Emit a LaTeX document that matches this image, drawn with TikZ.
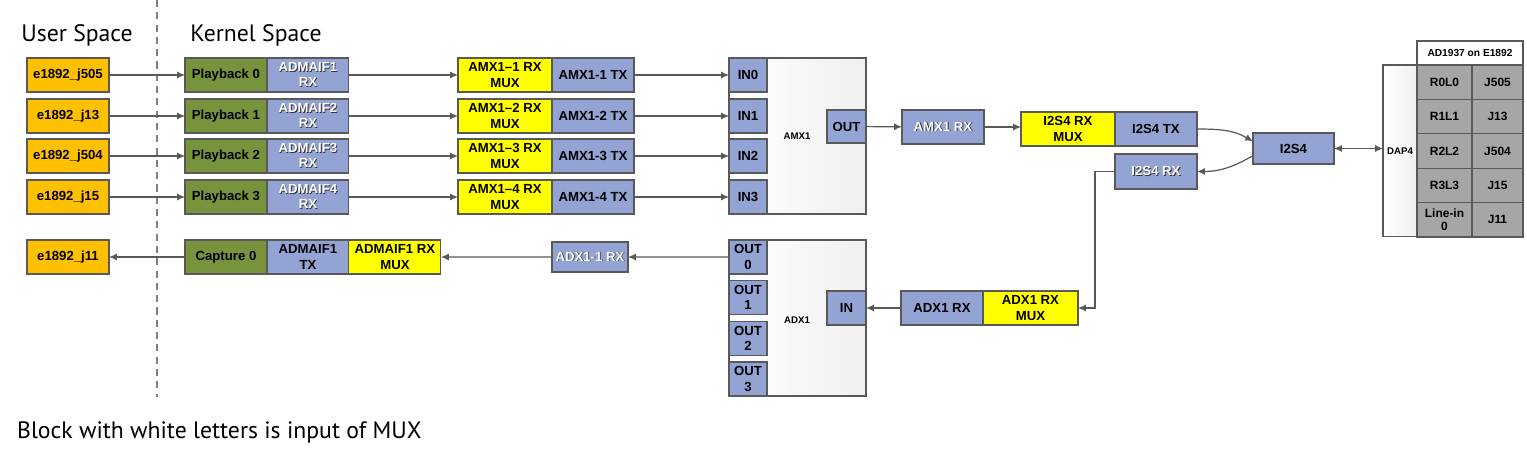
\documentclass[tikz,border=0pt]{standalone}
\usepackage{fontspec}
\setmainfont{Liberation Sans}
\newfontfamily\headfont{PT Sans}
\usepackage{tikz}
\usetikzlibrary{arrows.meta,positioning}
\definecolor{usr}{HTML}{FFC000}
\definecolor{grn}{HTML}{77933C}
\definecolor{blu}{HTML}{93A3D3}
\definecolor{yel}{HTML}{FFFF00}
\definecolor{cel}{HTML}{A6A6A6}
\definecolor{edge}{HTML}{595959}
\newcommand\boxfnt{\fontsize{7.5}{8.6}\selectfont\bfseries}
\newcommand\wl[1]{\rlap{\kern.45pt\raisebox{-.45pt}{\textcolor{black!80}{#1}}}\textcolor{white}{#1}}

\begin{document}
\begin{tikzpicture}[x=0.02cm,y=-0.02cm,
blk/.style={draw=edge,line width=0.6pt,outer sep=0pt,inner sep=1pt,align=center,font=\boxfnt,minimum height=0.68cm,anchor=north west},
user/.style={blk,fill=usr,minimum width=1.64cm},
pbk/.style={blk,fill=grn,minimum width=1.64cm},
bl/.style={blk,fill=blu,minimum width=1.64cm},
mux/.style={blk,fill=yel,minimum width=1.88cm},
port/.style={blk,fill=blu,minimum width=0.76cm},
big/.style={blk,left color=white,right color=black!6,minimum width=2.74cm,minimum height=3.12cm},
cell/.style={blk,fill=cel,minimum height=0.688cm,font=\fontsize{6.8}{7.6}\selectfont\bfseries},
tag/.style={font=\fontsize{5.5}{6}\selectfont\bfseries},
arr/.style={-{Latex[length=4.5pt,width=4pt]},draw=edge,line width=0.7pt},
dbl/.style={{Latex[length=4.5pt,width=4pt]}-{Latex[length=4.5pt,width=4pt]},draw=edge,line width=0.7pt},
divider/.style={draw=gray,dash pattern=on 4pt off 3pt,line width=0.6pt},
head/.style={font=\headfont\fontsize{13.5}{15}\selectfont}]
\useasboundingbox (0,0) rectangle (1527,460);
% headings and user/kernel border
\node[head] (ush) at (77,35) {User Space};
\node[head] (ksh) at (256,35) {Kernel Space};
\coordinate (dtop) at (157,0);
\coordinate (dbot) at (157,397);
\draw[divider] (dtop)--(dbot);
% user space
\node[user] (u0) at (27,58) {e1892\_j505};
\node[user] (u1) at (27,99) {e1892\_j13};
\node[user] (u2) at (27,139) {e1892\_j504};
\node[user] (u3) at (27,180) {e1892\_j15};
\node[user] (u4) at (27,240) {e1892\_j11};
% playback
\node[pbk] (pb0) at (185,58) {Playback 0};
\node[bl,right=0pt of pb0] (adm0) {\wl{ADMAIF1}\\\wl{RX}};
\node[pbk] (pb1) at (185,99) {Playback 1};
\node[bl,right=0pt of pb1] (adm1) {\wl{ADMAIF2}\\\wl{RX}};
\node[pbk] (pb2) at (185,139) {Playback 2};
\node[bl,right=0pt of pb2] (adm2) {\wl{ADMAIF3}\\\wl{RX}};
\node[pbk] (pb3) at (185,180) {Playback 3};
\node[bl,right=0pt of pb3] (adm3) {\wl{ADMAIF4}\\\wl{RX}};
\node[mux] (am0) at (458,58) {AMX1–1 RX\\MUX};
\node[bl,right=0pt of am0] (at0) {AMX1-1 TX};
\node[mux] (am1) at (458,99) {AMX1–2 RX\\MUX};
\node[bl,right=0pt of am1] (at1) {AMX1-2 TX};
\node[mux] (am2) at (458,139) {AMX1–3 RX\\MUX};
\node[bl,right=0pt of am2] (at2) {AMX1-3 TX};
\node[mux] (am3) at (458,180) {AMX1–4 RX\\MUX};
\node[bl,right=0pt of am3] (at3) {AMX1-4 TX};
% AMX1
\node[big] (amx) at (729,58) {};
\node[port] (in0) at (729,58) {IN0};
\node[port] (in1) at (729,99) {IN1};
\node[port] (in2) at (729,139) {IN2};
\node[port] (in3) at (729,180) {IN3};
\node[tag] (amxl) at (797,136) {AMX1};
\node[port,minimum width=0.78cm,minimum height=0.66cm,anchor=north east] (aout) at (866,110) {OUT};
\node[bl] (amxrx) at (902,110) {\wl{AMX1 RX}};
\node[mux] (i2smux) at (1021,112) {I2S4 RX\\MUX};
\node[bl,right=0pt of i2smux] (i2stx) {I2S4 TX};
\node[bl,minimum height=0.7cm] (i2srx) at (1115,154) {\wl{I2S4 RX}};
\node[bl,minimum width=1.62cm,minimum height=0.62cm] (i2s) at (1253,133) {I2S4};
% codec side
\node[big,minimum width=0.68cm,minimum height=3.44cm] (dap) at (1383,65) {};
\node[tag] (dapl) at (dap) {DAP4};
\node[blk,fill=white,minimum width=2.12cm,minimum height=0.48cm,font=\fontsize{5.8}{6}\selectfont\bfseries] (hdr) at (1417,41) {AD1937 on E1892};
\node[cell,minimum width=1.10cm] (c0a) at (1417,65) {R0L0};
\node[cell,minimum width=1.02cm,right=0pt of c0a] (c0b) {J505};
\node[cell,minimum width=1.10cm] (c1a) at (1417,99.4) {R1L1};
\node[cell,minimum width=1.02cm,right=0pt of c1a] (c1b) {J13};
\node[cell,minimum width=1.10cm] (c2a) at (1417,133.8) {R2L2};
\node[cell,minimum width=1.02cm,right=0pt of c2a] (c2b) {J504};
\node[cell,minimum width=1.10cm] (c3a) at (1417,168.2) {R3L3};
\node[cell,minimum width=1.02cm,right=0pt of c3a] (c3b) {J15};
\node[cell,minimum width=1.10cm] (c4a) at (1417,202.6) {Line-in\\0};
\node[cell,minimum width=1.02cm,right=0pt of c4a] (c4b) {J11};
% capture
\node[pbk] (cap) at (185,240) {Capture 0};
\node[bl,right=0pt of cap] (admtx) {ADMAIF1\\TX};
\node[mux,minimum width=1.84cm,right=0pt of admtx] (admmux) {ADMAIF1 RX\\MUX};
\node[bl,minimum width=1.52cm,minimum height=0.6cm] (adx11) at (552,242) {\wl{ADX1-1 RX}};
\node[big] (adx) at (729,240) {};
\node[port] (o0) at (729,240) {OUT\\0};
\node[port] (o1) at (729,280.7) {OUT\\1};
\node[port] (o2) at (729,321.3) {OUT\\2};
\node[port] (o3) at (729,362) {OUT\\3};
\node[tag] (adxl) at (797,320) {ADX1};
\node[port,minimum width=0.78cm,anchor=north east] (ain) at (866,291) {IN};
\node[bl] (adxrx) at (901,291) {ADX1 RX};
\node[mux,minimum width=1.90cm,right=0pt of adxrx] (adxmux) {ADX1 RX\\MUX};
% note
\node[head,anchor=west] (note) at (11,432) {Block with white letters is input of MUX};
% connectors
\draw[arr](u0)--(pb0);\draw[arr](u1)--(pb1);\draw[arr](u2)--(pb2);\draw[arr](u3)--(pb3);
\draw[arr](adm0)--(am0);\draw[arr](adm1)--(am1);\draw[arr](adm2)--(am2);\draw[arr](adm3)--(am3);
\draw[arr](at0)--(in0);\draw[arr](at1)--(in1);\draw[arr](at2)--(in2);\draw[arr](at3)--(in3);
\draw[arr](aout)--(amxrx);\draw[arr](amxrx)--(amxrx-|i2smux.west);
\draw[arr](i2stx.east) to[out=0,in=150] (i2s.170);\draw[arr](i2s.190) to[out=210,in=0] (i2srx.east);
\draw[dbl](i2s.east)--(i2s.east-|dap.west);
\draw[arr](i2srx.west)--++(-20,0)|-(adxmux.east);
\draw[arr](adxrx)--(ain);\draw[arr](o0)--(adx11);\draw[arr](adx11)--(admmux);\draw[arr](cap)--(u4);
\end{tikzpicture}
\end{document}
